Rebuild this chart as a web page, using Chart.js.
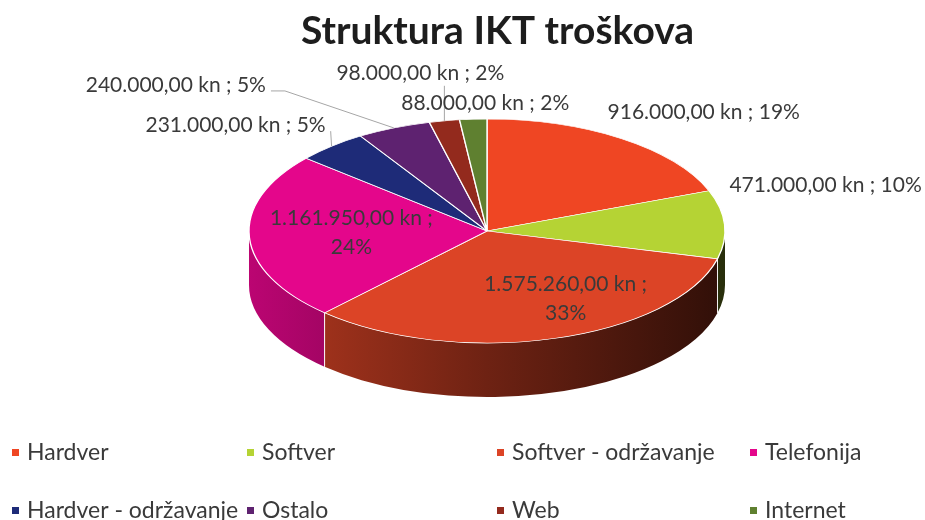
<!DOCTYPE html>
<html>
<head>
<meta charset="utf-8">
<script src="https://cdn.jsdelivr.net/npm/chart.js@4"></script>
<style>
  html, body { margin: 0; padding: 0; background: #ffffff; }
  #c { display: block; }
</style>
</head>
<body>
<canvas id="c" width="925" height="520"></canvas>
<script>
// ---- data ----
const categories = ['Hardver', 'Softver', 'Softver - održavanje', 'Telefonija',
                    'Hardver - održavanje', 'Ostalo', 'Web', 'Internet'];
const values = [916000, 471000, 1575260, 1161950, 231000, 240000, 98000, 88000];
const sliceColors = ['#EF4623', '#B5D334', '#DC4426', '#E4068B',
                     '#1E2B78', '#5E2270', '#932A1D', '#5F8030'];
const chartTitle = 'Struktura IKT troškova';

// ---- layout (not data) ----
const CX = 487, CY = 231, RX = 238, RY = 112, DEPTH = 54;
// label placement relative to the slice's rim anchor: [dx, dy, twoLines, leader]
const labelLayout = [
  [82, -26, false, null],
  [101, -39, false, null],
  [12, -40, true, null],
  [102, -5, true, null],
  [-96, -21, false, 'right'],
  [-218, -43, false, 'right'],
  [-24, -48, false, 'down'],
  [12, -16, false, null]
];
const legendCols = [12, 247, 497, 750];
const legendRows = [453, 511];

const total = values.reduce((a, b) => a + b, 0);
function fmtKn(v) {
  return Math.round(v).toString().replace(/\B(?=(\d{3})+(?!\d))/g, '.') + ',00 kn';
}
function shade(hex, f) {
  const n = parseInt(hex.slice(1), 16);
  const r = Math.round(((n >> 16) & 255) * f), g = Math.round(((n >> 8) & 255) * f), b = Math.round((n & 255) * f);
  return `rgb(${r},${g},${b})`;
}

const pie3d = {
  id: 'pie3d',
  beforeDatasetsDraw(chart) {
    const ctx = chart.ctx;
    const meta = chart.getDatasetMeta(0);
    // extruded side (front half only)
    meta.data.forEach((arc, i) => {
      const a = Math.max(arc.startAngle, 0), b = Math.min(arc.endAngle, Math.PI);
      if (a >= b) return;
      const base = sliceColors[i];
      const g = ctx.createLinearGradient(CX - RX, 0, CX + RX, 0);
      g.addColorStop(0, shade(base, 0.82));
      g.addColorStop(0.5, shade(base, 0.5));
      g.addColorStop(1, shade(base, 0.22));
      ctx.save();
      ctx.beginPath();
      ctx.ellipse(CX, CY, RX, RY, 0, a, b, false);
      ctx.ellipse(CX, CY + DEPTH, RX, RY, 0, b, a, true);
      ctx.closePath();
      ctx.fillStyle = g;
      ctx.fill();
      ctx.strokeStyle = 'rgba(255,255,255,0.9)';
      ctx.lineWidth = 1;
      [a, b].forEach(t => {
        if (t > 0.001 && t < Math.PI - 0.001) {
          const px = CX + RX * Math.cos(t), py = CY + RY * Math.sin(t);
          ctx.beginPath(); ctx.moveTo(px, py); ctx.lineTo(px, py + DEPTH); ctx.stroke();
        }
      });
      ctx.restore();
    });
    // squash top face into ellipse
    const a0 = meta.data[0];
    const r = a0.outerRadius;
    ctx.save();
    ctx.translate(CX, CY);
    ctx.scale(RX / r, RY / r);
    ctx.translate(-a0.x, -a0.y);
  },
  afterDatasetsDraw(chart) {
    const ctx = chart.ctx;
    ctx.restore();
    const meta = chart.getDatasetMeta(0);
    ctx.save();
    ctx.font = '21px Lato';
    ctx.fillStyle = '#3a3a3a';
    ctx.textAlign = 'center';
    ctx.textBaseline = 'middle';
    meta.data.forEach((arc, i) => {
      const mid = (arc.startAngle + arc.endAngle) / 2;
      const ax = CX + RX * Math.cos(mid), ay = CY + RY * Math.sin(mid);
      const [dx, dy, two, leader] = labelLayout[i];
      const lx = ax + dx, ly = ay + dy;
      const pct = Math.round(values[i] / total * 100) + '%';
      let w;
      if (two) {
        const t1 = fmtKn(values[i]) + ' ;';
        ctx.fillText(t1, lx, ly - 14.5);
        ctx.fillText(pct, lx, ly + 14.5);
      } else {
        const t = fmtKn(values[i]) + ' ; ' + pct;
        w = ctx.measureText(t).width;
        ctx.fillText(t, lx, ly);
      }
      if (leader) {
        ctx.save();
        ctx.strokeStyle = '#A6A6A6';
        ctx.lineWidth = 1;
        ctx.beginPath();
        if (leader === 'right') {
          const sx = lx + w / 2 + 5, sy = ly + 6;
          ctx.moveTo(sx, sy);
          if (ax > sx + 14) { ctx.lineTo(sx + 14, sy); }
          ctx.lineTo(ax, ay);
        } else {
          ctx.moveTo(ax, ly + 13);
          ctx.lineTo(ax, ay);
        }
        ctx.stroke();
        ctx.restore();
      }
    });
    // legend
    ctx.font = '23px Lato';
    ctx.textAlign = 'left';
    categories.forEach((name, i) => {
      const x = legendCols[i % 4], y = legendRows[Math.floor(i / 4)];
      ctx.fillStyle = sliceColors[i];
      ctx.fillRect(x, y - 4, 7, 7);
      ctx.fillStyle = '#3a3a3a';
      ctx.fillText(name, x + 15, y);
    });
    ctx.restore();
  }
};

new Chart(document.getElementById('c'), {
  type: 'pie',
  data: {
    labels: categories,
    datasets: [{
      data: values,
      backgroundColor: sliceColors,
      borderColor: '#ffffff',
      borderWidth: 1.2,
      clip: false
    }]
  },
  options: {
    responsive: false,
    animation: false,
    devicePixelRatio: 1,
    layout: { padding: { left: 70, right: 0, top: 0, bottom: 40 } },
    plugins: {
      legend: { display: false },
      tooltip: { enabled: false },
      title: {
        display: true,
        text: chartTitle,
        color: '#1d1d1d',
        font: { family: 'Lato', size: 39, weight: 'bold' },
        padding: { top: 8, bottom: 10 }
      }
    }
  },
  plugins: [pie3d]
});
</script>
</body>
</html>
